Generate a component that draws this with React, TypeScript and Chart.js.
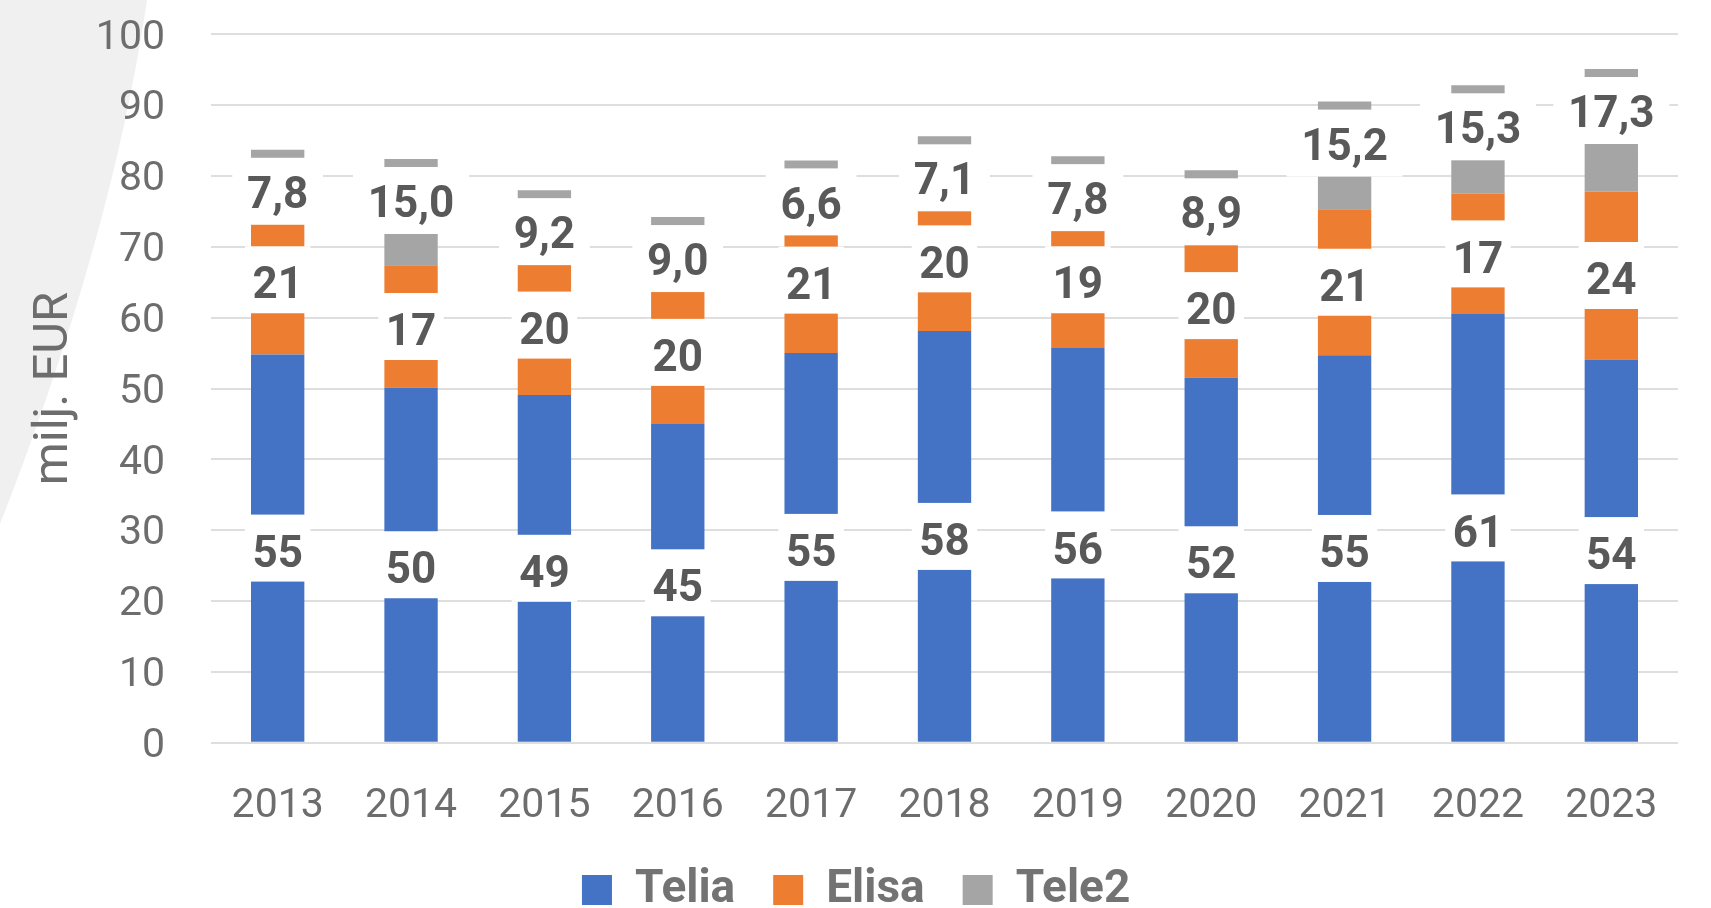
import React, { useEffect, useRef } from "react";
import { Chart, registerables } from "chart.js";

Chart.register(...registerables);

const FONT = "Roboto";

const years = ["2013", "2014", "2015", "2016", "2017", "2018", "2019", "2020", "2021", "2022", "2023"];
const telia = [54.8, 50.1, 49.1, 45.0, 55.0, 58.1, 55.7, 51.5, 54.7, 60.5, 54.1];
const elisa = [21.1, 17.3, 19.7, 20.2, 20.6, 20.4, 19.3, 20.4, 20.6, 17.0, 23.7];
const tele2 = [7.8, 15.0, 9.2, 9.0, 6.6, 7.1, 7.8, 8.9, 15.2, 15.3, 17.3];
const seriesNames = ["Telia", "Elisa", "Tele2"];
const seriesColors = ["#4472C4", "#ED7D31", "#A5A5A5"];
const yMin = 0;
const yMax = 100;
const yStep = 10;
const axisTitle = "milj. EUR";

const LABEL_SIZE = 44;

function formatLabel(datasetIndex: number, v: number): string {
  if (datasetIndex === 2) return v.toFixed(1).replace(".", ",");
  return String(Math.round(v));
}

const bgShapePlugin = {
  id: "bgShape",
  beforeDraw(chart: any) {
    const ctx = chart.ctx;
    ctx.save();
    ctx.fillStyle = "#f0f0f0";
    ctx.beginPath();
    ctx.moveTo(0, 0);
    ctx.lineTo(147, 0);
    ctx.quadraticCurveTo(112, 238, 0, 524);
    ctx.closePath();
    ctx.fill();
    ctx.restore();
  },
};

const boxLabelPlugin = {
  id: "boxLabels",
  afterDatasetsDraw(chart: any) {
    const ctx = chart.ctx;
    ctx.save();
    ctx.font = `bold ${LABEL_SIZE}px ${FONT}`;
    ctx.textAlign = "center";
    ctx.textBaseline = "alphabetic";
    const capHalf = (0.711 * LABEL_SIZE) / 2;
    chart.data.datasets.forEach((ds: any, di: number) => {
      const meta = chart.getDatasetMeta(di);
      meta.data.forEach((el: any, i: number) => {
        const v = ds.data[i] as number;
        const text = formatLabel(di, v);
        const { x, y, base } = el.getProps(["x", "y", "base"], true);
        const bw = ctx.measureText("0".repeat(text.length)).width + 15;
        const bh = 67;
        const top = Math.min(y, base);
        const cy = di === 2 ? top + 8 + bh / 2 : (y + base) / 2;
        ctx.fillStyle = "#ffffff";
        ctx.fillRect(x - bw / 2, cy - bh / 2, bw, bh);
        ctx.fillStyle = "#595959";
        const glyphCenter = cy + (di === 2 ? 1 : 3);
        ctx.fillText(text, x, glyphCenter + capHalf);
      });
    });
    ctx.restore();
  },
};

export default function App() {
  const canvasRef = useRef<HTMLCanvasElement | null>(null);

  useEffect(() => {
    if (!canvasRef.current) return;
    Chart.defaults.font.family = FONT;
    const seriesData = [telia, elisa, tele2];
    const chart = new Chart(canvasRef.current, {
      type: "bar",
      data: {
        labels: years,
        datasets: seriesNames.map((name, i) => ({
          label: name,
          data: seriesData[i],
          backgroundColor: seriesColors[i],
          borderWidth: 0,
          categoryPercentage: 1,
          barPercentage: 0.4,
        })),
      },
      options: {
        responsive: true,
        maintainAspectRatio: false,
        animation: false,
        layout: { padding: { top: 34.3, right: 33, bottom: -15, left: 34.3 } },
        plugins: {
          legend: {
            position: "bottom",
            labels: {
              boxWidth: 30,
              boxHeight: 30,
              padding: 38,
              color: "#737373",
              font: { family: FONT, size: 46, weight: "bold" },
            },
          },
          tooltip: { enabled: false },
        },
        scales: {
          x: {
            stacked: true,
            grid: { display: false, drawTicks: false },
            border: { display: false },
            ticks: {
              color: "#6d6d6d",
              font: { family: FONT, size: 41 },
              padding: 39.7,
              maxRotation: 0,
              autoSkip: false,
            },
            afterFit: (s: any) => {
              s.height = 86.3;
              s.paddingLeft = 0;
              s.paddingRight = 0;
            },
          },
          y: {
            stacked: true,
            min: yMin,
            max: yMax,
            ticks: {
              stepSize: yStep,
              padding: 46,
              labelOffset: 4,
              color: "#6d6d6d",
              font: { family: FONT, size: 41 },
            },
            grid: { color: "#dedede", lineWidth: 2, drawTicks: false },
            border: { display: false },
            title: {
              display: true,
              text: axisTitle,
              color: "#6d6d6d",
              font: { family: FONT, size: 49, lineHeight: 0.4 },
              padding: { top: 10.4, bottom: 0 },
            },
            afterFit: (s: any) => {
              s.width = 176.7;
              s.paddingTop = 0;
              s.paddingBottom = 0;
            },
          },
        },
      } as any,
      plugins: [bgShapePlugin, boxLabelPlugin],
    });
    return () => chart.destroy();
  }, []);

  return (
    <div style={{ position: "absolute", left: 0, top: 0, width: 1711, height: 908, background: "#ffffff" }}>
      <canvas ref={canvasRef} />
    </div>
  );
}
